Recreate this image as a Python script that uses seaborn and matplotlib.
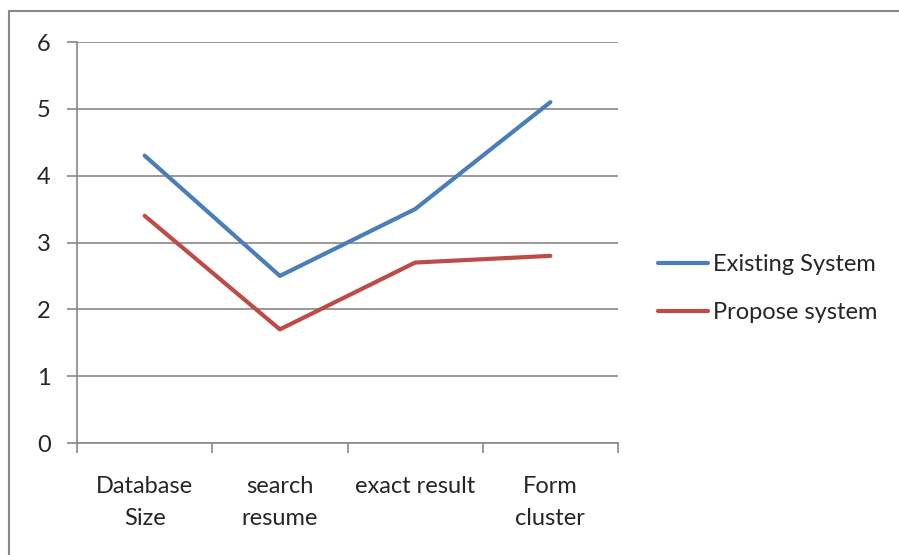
import matplotlib
matplotlib.use("Agg")
import matplotlib.pyplot as plt
import seaborn as sns
import pandas as pd
from matplotlib.patches import Rectangle

categories = ["Database\nSize", "search\nresume", "exact result", "Form\ncluster"]
existing = [4.3, 2.5, 3.5, 5.1]
propose = [3.4, 1.7, 2.7, 2.8]
series_names = ["Existing System", "Propose system"]
palette = {"Existing System": "#4A7EBB", "Propose system": "#BE4B48"}

df = pd.DataFrame({
    "pos": list(range(len(categories))) * 2,
    "value": existing + propose,
    "series": [series_names[0]] * 4 + [series_names[1]] * 4,
})

sns.set_style("white")
plt.rcParams["font.family"] = ["Lato", "DejaVu Sans"]
grid_color = "#878787"

fig = plt.figure(figsize=(8.99, 5.55), dpi=100)
ax = fig.add_axes([77 / 899, 112 / 555, 541 / 899, 401 / 555])

sns.lineplot(data=df, x="pos", y="value", hue="series", palette=palette,
             linewidth=3, ax=ax, sort=False)

ax.set_xlim(-0.5, len(categories) - 0.5)
ax.set_ylim(0, 6)
ax.set_yticks(range(7))
ax.yaxis.grid(True, color=grid_color, linewidth=1.2)
ax.set_axisbelow(True)
ax.set_xticks([i - 0.5 for i in range(len(categories) + 1)])
ax.set_xticklabels([])
ax.set_xticks(range(len(categories)), minor=True)
ax.set_xticklabels(categories, minor=True, fontsize=17, linespacing=1.62)
ax.tick_params(axis="x", which="major", length=7, width=1.2, color=grid_color, direction="out", bottom=True)
ax.tick_params(axis="x", which="minor", length=0, pad=24)
ax.tick_params(axis="y", length=7, width=1.2, color=grid_color, direction="out", left=True, labelsize=17, pad=12)
ax.set_xlabel("")
ax.set_ylabel("")
for s in ["top", "right"]:
    ax.spines[s].set_visible(False)
for s in ["left", "bottom"]:
    ax.spines[s].set_color(grid_color)
    ax.spines[s].set_linewidth(1.2)

leg = ax.legend(loc="center left", bbox_to_anchor=(1.034, 0.385), frameon=False,
                fontsize=17, handlelength=2.15, handletextpad=0.2, labelspacing=1.15)

fig.patches.append(Rectangle((9 / 899, -0.05), 1.1, 1 - 11 / 555 + 0.05,
                             transform=fig.transFigure, fill=False,
                             edgecolor=grid_color, linewidth=1.5, clip_on=False))

fig.savefig("out.png", dpi=100)
